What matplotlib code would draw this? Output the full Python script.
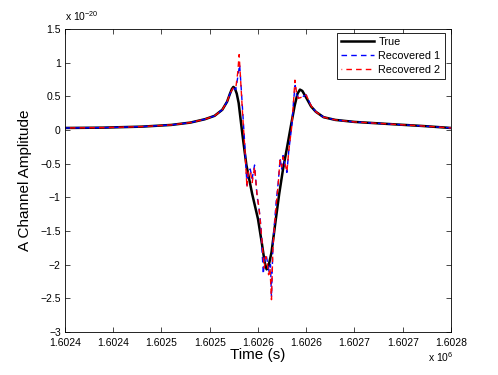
import numpy as np
import matplotlib
matplotlib.use("Agg")
import matplotlib.pyplot as plt

# -----------------------------------
# Data (time in s, amplitude in units of 1e-20)
# -----------------------------------
t0 = 1602400

true_t = [0, 40, 80, 110, 130, 145, 155, 163, 168, 171, 173, 174.5, 176, 178,
          180, 184, 188, 194, 200, 204, 207, 209, 211, 214, 218, 222, 226, 230,
          234, 238, 241, 243.5, 246, 250, 255, 260, 268, 280, 300, 340, 370, 400]
true_v = [0.03, 0.035, 0.05, 0.075, 0.11, 0.16, 0.21, 0.30, 0.42, 0.54, 0.61, 0.64,
          0.62, 0.54, 0.40, -0.08, -0.52, -0.95, -1.32, -1.68, -1.97, -2.07, -2.02,
          -1.82, -1.38, -0.95, -0.58, -0.27, 0.05, 0.36, 0.54, 0.60, 0.58, 0.48,
          0.35, 0.27, 0.19, 0.15, 0.12, 0.085, 0.06, 0.03]

rec1_t = [0, 40, 80, 110, 130, 145, 155, 163, 168, 171, 174, 177, 179, 181, 182.5,
          184.5, 186.5, 188.6, 190, 192, 194, 196.5, 199, 201, 203, 205.5, 207, 208.5,
          210, 211.5, 213, 214, 215.5, 217, 219, 221, 223, 224.5, 226, 228, 230, 232,
          235, 237, 238.5, 240, 242, 244, 247, 250, 255, 260, 268, 280, 300, 340,
          370, 400]
rec1_v = [0.03, 0.035, 0.05, 0.075, 0.11, 0.16, 0.21, 0.30, 0.42, 0.54, 0.62, 0.60,
          0.78, 0.97, 0.65, 0.20, -0.25, -0.82, -0.60, -0.58, -0.72, -0.52, -0.98,
          -1.15, -1.42, -2.14, -1.90, -1.85, -1.98, -2.10, -2.00, -2.48, -1.70, -1.40,
          -1.05, -0.78, -0.42, -0.58, -0.38, -0.52, -0.63, -0.30, 0.05, 0.45, 0.66,
          0.52, 0.48, 0.47, 0.50, 0.52, 0.36, 0.27, 0.19, 0.15, 0.12, 0.085, 0.06, 0.03]

rec2_t = [0, 40, 80, 110, 130, 145, 155, 163, 168, 171, 174, 177, 179, 180.5, 182,
          184, 186.5, 188.6, 190, 192, 194, 196.5, 199, 201, 203, 205, 206.5, 208,
          209.5, 211, 212.5, 214, 215.5, 217, 219, 221, 222.8, 224.5, 226, 228, 230,
          232, 235, 237, 238.3, 240, 241.8, 244, 247, 250, 255, 260, 268, 280, 300,
          340, 370, 400]
rec2_v = [0.03, 0.035, 0.05, 0.075, 0.11, 0.16, 0.21, 0.30, 0.42, 0.54, 0.62, 0.62,
          0.85, 1.12, 0.75, 0.25, -0.30, -0.85, -0.62, -0.60, -0.78, -0.55, -0.95,
          -1.15, -1.45, -1.80, -2.05, -1.88, -1.95, -2.15, -2.05, -2.52, -1.75, -1.45,
          -1.10, -0.80, -0.45, -0.55, -0.40, -0.50, -0.62, -0.30, 0.05, 0.45, 0.74,
          0.55, 0.47, 0.48, 0.50, 0.52, 0.36, 0.27, 0.19, 0.15, 0.12, 0.085, 0.06, 0.03]

xticks = [1.60240, 1.60245, 1.60250, 1.60255, 1.60260, 1.60265, 1.60270, 1.60275, 1.60280]
xtick_labels = ["1.6024", "1.6024", "1.6025", "1.6025", "1.6026", "1.6026",
                "1.6027", "1.6027", "1.6028"]
yticks = [1.5, 1, 0.5, 0, -0.5, -1, -1.5, -2, -2.5, -3]
ytick_labels = ["1.5", "1", "0.5", "0", "\u22120.5", "\u22121", "\u22121.5",
                "\u22122", "\u22122.5", "\u22123"]

# -----------------------------------
# Plot
# -----------------------------------
plt.rcParams["font.family"] = ["Liberation Sans", "DejaVu Sans"]
plt.rcParams["mathtext.fontset"] = "custom"
plt.rcParams["mathtext.rm"] = "Liberation Sans"

fig = plt.figure(figsize=(4.98, 3.75), dpi=100)
ax = fig.add_axes([0.1305, 0.1147, 0.775, 0.808])

def to_x(ts):
    return (t0 + np.array(ts)) / 1e6

ax.plot(to_x(true_t), true_v, color="black", lw=1.8, label="True")
ax.plot(to_x(rec1_t), rec1_v, color="blue", lw=1.0, ls=(0, (4, 3)), label="Recovered 1")
ax.plot(to_x(rec2_t), rec2_v, color="red", lw=1.0, ls=(3.5, (4, 3)), label="Recovered 2")

ax.set_xlim(1.6024, 1.6028)
ax.set_ylim(-3, 1.5)
ax.set_xticks(xticks)
ax.set_xticklabels(xtick_labels)
ax.set_yticks(yticks)
ax.set_yticklabels(ytick_labels)
ax.tick_params(direction="in", length=3.5, width=0.5, labelsize=7.5,
               top=True, right=True, pad=3)
ax.tick_params(axis="x", pad=4.5)
for s in ax.spines.values():
    s.set_linewidth(0.6)

ax.set_xlabel("Time (s)", fontsize=11, labelpad=0)
ax.set_ylabel("A Channel Amplitude", fontsize=11, labelpad=6)

fig.text(65 / 498, 1 - 21 / 375, r"x 10$^{-20}$", fontsize=7.5, ha="left", va="baseline")
fig.text(428 / 498, 1 - 362 / 375, r"x 10$^{6}$", fontsize=7.5, ha="left", va="baseline")

leg = ax.legend(loc="upper right", bbox_to_anchor=(0.984, 0.987), borderaxespad=0,
                fontsize=7.8, handlelength=3.0, fancybox=False, framealpha=1,
                labelspacing=0.35, handletextpad=0.4, borderpad=0.4)
leg.get_frame().set_edgecolor("black")
leg.get_frame().set_linewidth(0.6)

fig.savefig("out.png", dpi=100)
